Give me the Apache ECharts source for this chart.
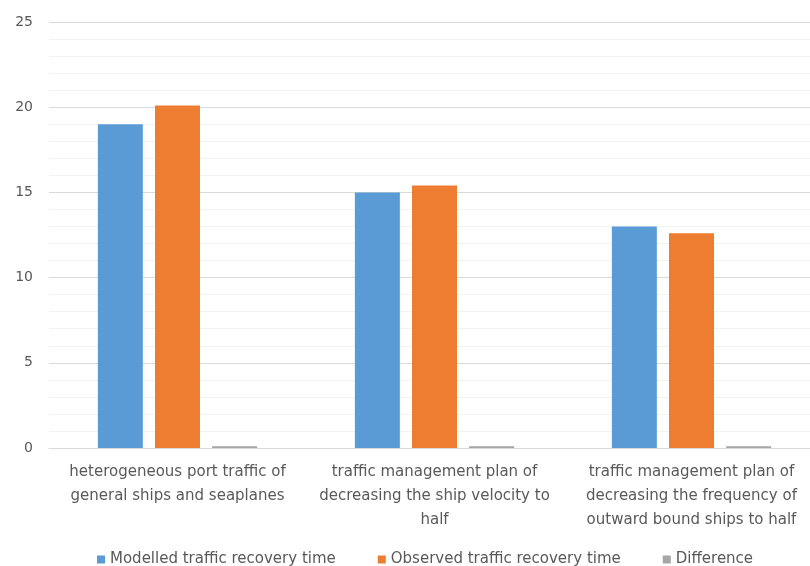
<!DOCTYPE html>
<html>
<head>
<meta charset="utf-8">
<script src="https://cdn.jsdelivr.net/npm/echarts@6/dist/echarts.min.js"></script>
<style>
  html, body { margin: 0; padding: 0; background: #fff; }
  #main { width: 810px; height: 566px; }
</style>
</head>
<body>
<div id="main"></div>
<script>
// data
var categories = [
  'heterogeneous port traffic of\ngeneral ships and seaplanes',
  'traffic management plan of\ndecreasing the ship velocity to\nhalf',
  'traffic management plan of\ndecreasing the frequency of\noutward bound ships to half'
];
var modelled = [19, 15, 13];
var observed = [20.1, 15.4, 12.6];
var difference = [0.1, 0.1, 0.1];

var chart = echarts.init(document.getElementById('main'));

var font = 'DejaVu Sans';
var option = {
  animation: false,
  textStyle: { fontFamily: font },
  // plot area runs past the right edge, like the cropped original
  grid: { left: 49, width: 771, top: 22, bottom: 118, containLabel: false, outerBoundsMode: 'none' },
  legend: {
    top: 547,
    left: 92,
    itemWidth: 8,
    itemHeight: 8,
    itemGap: 42,
    icon: 'rect',
    textStyle: { color: '#595959', fontSize: 15, fontFamily: font },
    data: ['Modelled traffic recovery time', 'Observed traffic recovery time', 'Difference']
  },
  xAxis: {
    type: 'category',
    data: categories,
    axisLine: { lineStyle: { color: '#d9d9d9' } },
    axisTick: { show: false },
    axisLabel: { color: '#595959', fontSize: 15, lineHeight: 24, margin: 12, interval: 0 }
  },
  yAxis: {
    type: 'value',
    min: 0,
    max: 25,
    interval: 5,
    axisLine: { show: false },
    axisTick: { show: false },
    axisLabel: { color: '#595959', fontSize: 14, margin: 16 },
    splitLine: { lineStyle: { color: '#d9d9d9' } },
    minorTick: { show: false, splitNumber: 5 },
    minorSplitLine: { show: true, lineStyle: { color: '#f2f2f2' } }
  },
  series: [
    {
      name: 'Modelled traffic recovery time',
      type: 'bar',
      data: modelled,
      barWidth: 45,
      barGap: '27%',
      itemStyle: { color: '#5B9BD5' }
    },
    {
      name: 'Observed traffic recovery time',
      type: 'bar',
      data: observed,
      barWidth: 45,
      barGap: '27%',
      itemStyle: { color: '#ED7D31' }
    },
    {
      name: 'Difference',
      type: 'bar',
      data: difference,
      barWidth: 45,
      barGap: '27%',
      itemStyle: { color: '#A5A5A5' }
    }
  ]
};

chart.setOption(option);
</script>
</body>
</html>
